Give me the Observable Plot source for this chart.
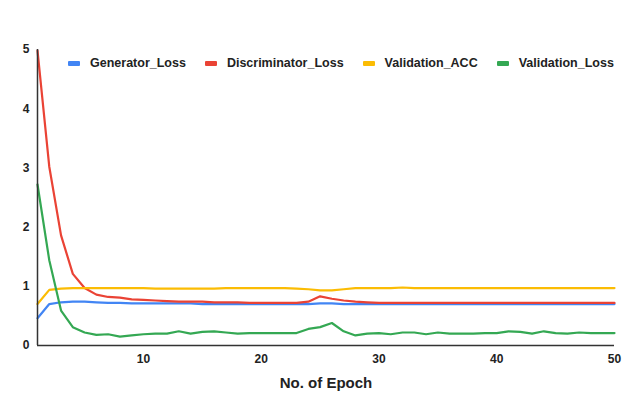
<!DOCTYPE html>
<html>
<head>
<meta charset="utf-8">
<script src="https://cdn.jsdelivr.net/npm/d3@7"></script>
<script src="https://cdn.jsdelivr.net/npm/@observablehq/plot@0.6"></script>
<style>
  html, body { margin: 0; padding: 0; background: #fff; }
  #wrap { position: relative; width: 637px; height: 394px; font-family: "Liberation Sans", Arial, sans-serif; }
  #legend { position: absolute; top: 56px; left: 68px; display: flex; font-weight: bold; font-size: 12.5px; color: #222; white-space: nowrap; }
  .item { display: flex; align-items: center; margin-right: 19px; }
  .sw { width: 12px; height: 5px; margin-right: 10px; border-radius: 1px; }
</style>
</head>
<body>
<div id="wrap"><div id="legend"></div></div>
<script>
const epochs = [1,2,3,4,5,6,7,8,9,10,11,12,13,14,15,16,17,18,19,20,21,22,23,24,25,26,27,28,29,30,31,32,33,34,35,36,37,38,39,40,41,42,43,44,45,46,47,48,49,50];
const seriesNames = ["Generator_Loss", "Discriminator_Loss", "Validation_ACC", "Validation_Loss"];
const seriesColors = ["#4285F4", "#EA4335", "#FBBC04", "#34A853"];
const generatorLoss = [0.46,0.70,0.73,0.74,0.74,0.73,0.72,0.72,0.71,0.71,0.71,0.71,0.71,0.71,0.70,0.70,0.70,0.70,0.70,0.70,0.70,0.70,0.70,0.70,0.71,0.71,0.70,0.70,0.70,0.70,0.70,0.70,0.70,0.70,0.70,0.70,0.70,0.70,0.70,0.70,0.70,0.70,0.70,0.70,0.70,0.70,0.70,0.70,0.70,0.70];
const discriminatorLoss = [4.98,3.02,1.86,1.21,0.97,0.86,0.82,0.81,0.78,0.77,0.76,0.75,0.74,0.74,0.74,0.73,0.73,0.73,0.72,0.72,0.72,0.72,0.72,0.74,0.83,0.79,0.76,0.74,0.73,0.72,0.72,0.72,0.72,0.72,0.72,0.72,0.72,0.72,0.72,0.72,0.72,0.72,0.72,0.72,0.72,0.72,0.72,0.72,0.72,0.72];
const validationAcc = [0.70,0.94,0.96,0.97,0.97,0.97,0.97,0.97,0.97,0.97,0.96,0.96,0.96,0.96,0.96,0.96,0.97,0.97,0.97,0.97,0.97,0.97,0.96,0.95,0.93,0.93,0.95,0.97,0.97,0.97,0.97,0.98,0.97,0.97,0.97,0.97,0.97,0.97,0.97,0.97,0.97,0.97,0.97,0.97,0.97,0.97,0.97,0.97,0.97,0.97];
const validationLoss = [2.72,1.44,0.59,0.31,0.22,0.18,0.19,0.15,0.17,0.19,0.20,0.20,0.24,0.20,0.23,0.24,0.22,0.20,0.21,0.21,0.21,0.21,0.21,0.28,0.31,0.38,0.24,0.17,0.20,0.21,0.19,0.22,0.22,0.19,0.22,0.20,0.20,0.20,0.21,0.21,0.24,0.23,0.20,0.24,0.21,0.20,0.22,0.21,0.21,0.21];
const yTicks = [0,1,2,3,4,5];
const xTicks = [10,20,30,40,50];

const allValues = [generatorLoss, discriminatorLoss, validationAcc, validationLoss];
const rows = [];
seriesNames.forEach((name, i) => {
  epochs.forEach((e, j) => rows.push({series: name, epoch: e, value: allValues[i][j]}));
});

const chart = Plot.plot({
  width: 637,
  height: 394,
  marginLeft: 37,
  marginRight: 23,
  marginTop: 49,
  marginBottom: 49,
  style: {fontFamily: '"Liberation Sans", Arial, sans-serif', fontSize: "12px", fontWeight: "bold", color: "#222", background: "#fff"},
  x: {domain: [1, 50]},
  y: {domain: [0, 5]},
  color: {domain: seriesNames, range: seriesColors},
  marks: [
    Plot.axisY({ticks: yTicks, tickFormat: d => String(d), tickSize: 0, tickPadding: 8, label: null, fontWeight: "bold", fontSize: 12}),
    Plot.axisX({ticks: xTicks, tickFormat: d => String(d), tickSize: 0, tickPadding: 9, label: "No. of Epoch", labelAnchor: "center", labelArrow: "none", labelOffset: 42, fontWeight: "bold", fontSize: 12}),
    Plot.line(rows, {x: "epoch", y: "value", z: "series", stroke: "series", strokeWidth: 2.2}),
    Plot.ruleY([0], {stroke: "#333", strokeWidth: 1.5}),
    Plot.ruleX([1], {stroke: "#333", strokeWidth: 1.5})
  ]
});
document.getElementById("wrap").prepend(chart);
chart.querySelectorAll("g[aria-label='x-axis label'] text").forEach(t => { t.style.fontSize = "15px"; });

const legend = document.getElementById("legend");
seriesNames.forEach((name, i) => {
  const it = document.createElement("div");
  it.className = "item";
  it.innerHTML = `<span class="sw" style="background:${seriesColors[i]}"></span><span>${name}</span>`;
  legend.appendChild(it);
});
</script>
</body>
</html>
